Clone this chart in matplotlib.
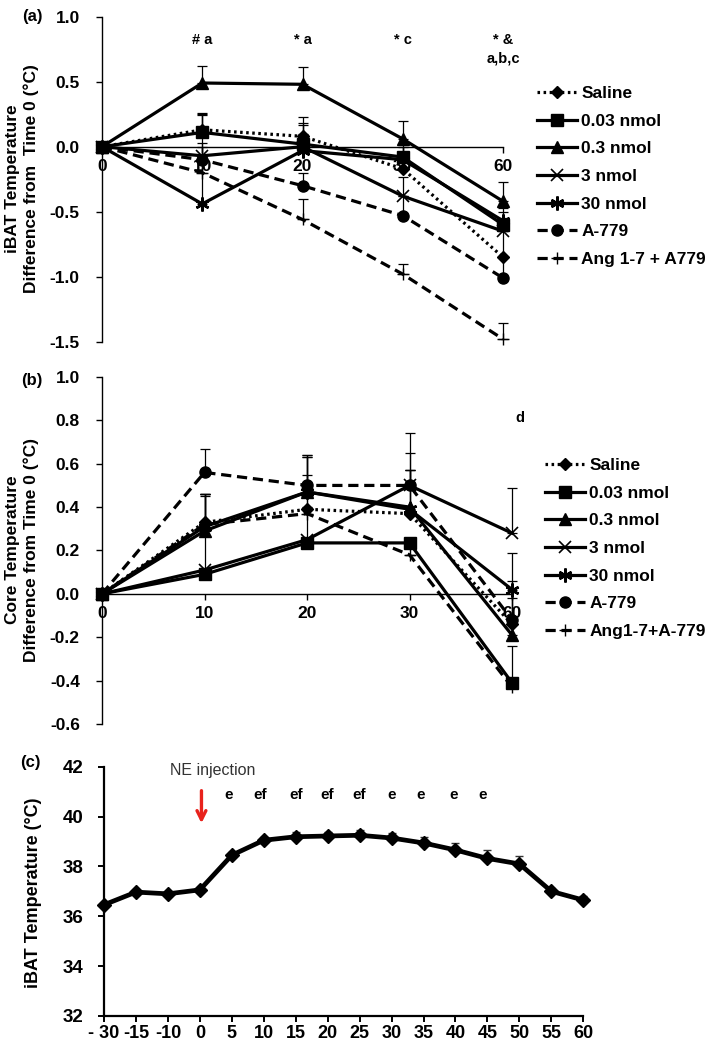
import matplotlib
matplotlib.use("Agg")
import matplotlib.pyplot as plt
import numpy as np

plt.rcParams['font.family'] = ['Liberation Sans', 'DejaVu Sans']
plt.rcParams['font.weight'] = 'bold'

# ---------------- data ----------------
time_ab = ["0", "10", "20", "30", "60"]
series_names_a = ["Saline", "0.03 nmol", "0.3 nmol", "3 nmol", "30 nmol", "A-779", "Ang 1-7 + A779"]
series_names_b = ["Saline", "0.03 nmol", "0.3 nmol", "3 nmol", "30 nmol", "A-779", "Ang1-7+A-779"]

ibat_saline = [0, 0.13, 0.08, -0.17, -0.85]
ibat_003 = [0, 0.11, 0.02, -0.08, -0.60]
ibat_03 = [0, 0.49, 0.48, 0.06, -0.42]
ibat_3 = [0, -0.07, 0.00, -0.38, -0.65]
ibat_30 = [0, -0.44, -0.03, -0.10, -0.57]
ibat_a779 = [0, -0.10, -0.30, -0.53, -1.01]
ibat_ang = [0, -0.20, -0.56, -0.98, -1.48]

ibat_err_saline = [0, 0.13, 0.15, 0.10, 0.20]
ibat_err_003 = [0, 0.14, 0.16, 0.10, 0.10]
ibat_err_03 = [0, 0.13, 0.13, 0.14, 0.15]
ibat_err_3 = [0, 0.10, 0.10, 0.15, 0.10]
ibat_err_30 = [0, 0.68, 0.20, 0.10, 0.10]
ibat_err_a779 = [0, 0.10, 0.10, 0.15, 0.16]
ibat_err_ang = [0, 0.10, 0.16, 0.08, 0.12]

core_saline = [0, 0.33, 0.39, 0.37, -0.14]
core_003 = [0, 0.09, 0.235, 0.235, -0.41]
core_03 = [0, 0.29, 0.47, 0.40, -0.19]
core_3 = [0, 0.11, 0.25, 0.50, 0.28]
core_30 = [0, 0.31, 0.47, 0.39, 0.02]
core_a779 = [0, 0.56, 0.50, 0.50, -0.12]
core_ang = [0, 0.32, 0.37, 0.18, -0.43]

core_err_saline = [0, 0.12, 0.24, 0.20, 0.20]
core_err_003 = [0, 0.00, 0.00, 0.00, 0.17]
core_err_03 = [0, 0.17, 0.16, 0.17, 0.20]
core_err_3 = [0, 0.35, 0.15, 0.24, 0.21]
core_err_30 = [0, 0.15, 0.17, 0.26, 0.17]
core_err_a779 = [0, 0.11, 0.14, 0.07, 0.10]
core_err_ang = [0, 0.14, 0.18, 0.00, 0.04]

time_c = ["- 30", "-15", "-10", "0", "5", "10", "15", "20", "25", "30", "35", "40", "45", "50", "55", "60"]
ibat_c = [36.46, 36.97, 36.90, 37.06, 38.45, 39.05, 39.19, 39.22, 39.25, 39.14, 38.94, 38.66, 38.32, 38.10, 37.00, 36.65]
ibat_c_err = [0.05, 0.06, 0.06, 0.08, 0.12, 0.15, 0.18, 0.18, 0.22, 0.22, 0.26, 0.26, 0.32, 0.32, 0.12, 0.15]

annot_a_pos = [1, 2, 3, 4]
annot_a_text = ["# a", "* a", "* c", "* &"]
annot_c_pos = [3.9, 4.9, 6, 7, 8, 9, 9.9, 10.95, 11.85]
annot_c_text = ["e", "ef", "ef", "ef", "ef", "e", "e", "e", "e"]

# ---------------- styles ----------------
styles = [
    dict(marker='D', ls=(0, (0.8, 1.1)), ms=6, mew=1),
    dict(marker='s', ls='-', ms=8, mew=1),
    dict(marker='^', ls='-', ms=8, mew=1),
    dict(marker='x', ls='-', ms=9, mew=1.2),
    dict(marker=(6, 2, 0), ls='-', ms=10, mew=1.8),
    dict(marker='o', ls=(0, (3.2, 1.8)), ms=8, mew=1),
    dict(marker='+', ls=(0, (3.2, 1.8)), ms=8, mew=1),
]

W, H = 709, 1046
fig = plt.figure(figsize=(W / 100, H / 100), dpi=100)
fig.patch.set_facecolor('white')


def ax_rect(x0, y0, x1, y1):
    return [x0 / W, 1 - y1 / H, (x1 - x0) / W, (y1 - y0) / H]


def draw_panel(ax, data, errs, names, ylim, yticks, legend_xy, lw=2.3):
    x = np.arange(len(time_ab))
    handles = []
    for d, e, st, nm in zip(data, errs, styles, names):
        ax.errorbar(x, d, yerr=[np.zeros(len(e)), e], fmt='none', ecolor='black',
                    elinewidth=0.9, capsize=3.5, capthick=0.9, zorder=3, clip_on=False)
        h, = ax.plot(x, d, color='black', lw=lw, linestyle=st['ls'], marker=st['marker'],
                     ms=st['ms'], mew=st['mew'], mfc='black', mec='black', zorder=4,
                     clip_on=False, label=nm)
        handles.append(h)
    ax.set_xlim(0, len(time_ab) - 1)
    ax.set_ylim(*ylim)
    ax.set_yticks(yticks)
    ax.set_yticklabels([f"{v:.1f}" for v in yticks])
    ax.set_xticks(x)
    ax.set_xticklabels(time_ab)
    ax.spines['top'].set_visible(False)
    ax.spines['right'].set_visible(False)
    ax.spines['bottom'].set_position(('data', 0))
    ax.spines['bottom'].set_linewidth(1.0)
    ax.spines['left'].set_linewidth(1.0)
    ax.tick_params(axis='y', direction='out', length=4, width=1, labelsize=12.5, pad=12)
    ax.tick_params(axis='x', direction='out', length=4, width=1, labelsize=12.5, pad=5)
    for t in ax.get_xticklabels() + ax.get_yticklabels():
        t.set_fontweight('bold')
        t.set_zorder(1)
    leg = fig.legend(handles=handles, loc='upper left',
                     bbox_to_anchor=(legend_xy[0] / W, 1 - legend_xy[1] / H),
                     frameon=False, fontsize=12.5, handlelength=2.3, handletextpad=0.25,
                     labelspacing=0.72, borderpad=0, borderaxespad=0, numpoints=1)
    for t in leg.get_texts():
        t.set_fontweight('bold')
    return ax


# ---------------- panel (a) ----------------
axa = fig.add_axes(ax_rect(102, 16.7, 503, 341.7))
draw_panel(axa,
           [ibat_saline, ibat_003, ibat_03, ibat_3, ibat_30, ibat_a779, ibat_ang],
           [ibat_err_saline, ibat_err_003, ibat_err_03, ibat_err_3, ibat_err_30, ibat_err_a779, ibat_err_ang],
           series_names_a, (-1.5, 1.0), [-1.5, -1.0, -0.5, 0.0, 0.5, 1.0], (537, 86))
for p, t in zip(annot_a_pos, annot_a_text):
    axa.text(p, 0.82, t, ha='center', va='center', fontsize=10.5, fontweight='bold')
axa.text(4, 0.68, "a,b,c", ha='center', va='center', fontsize=10.5, fontweight='bold')

# ---------------- panel (b) ----------------
axb = fig.add_axes(ax_rect(102, 377, 512, 724))
draw_panel(axb,
           [core_saline, core_003, core_03, core_3, core_30, core_a779, core_ang],
           [core_err_saline, core_err_003, core_err_03, core_err_3, core_err_30, core_err_a779, core_err_ang],
           series_names_b, (-0.6, 1.0), [-0.6, -0.4, -0.2, 0.0, 0.2, 0.4, 0.6, 0.8, 1.0], (545, 458))
axb.text(4.08, 0.81, "d", ha='center', va='center', fontsize=10.5, fontweight='bold')

# ---------------- panel (c) ----------------
axc = fig.add_axes(ax_rect(104, 766.7, 583.3, 1016))
xc = np.arange(len(time_c))
axc.errorbar(xc, ibat_c, yerr=[np.zeros(len(ibat_c_err)), ibat_c_err], fmt='none', ecolor='#333333',
             elinewidth=1.0, capsize=3, capthick=1.0, zorder=3, clip_on=False)
axc.plot(xc, ibat_c, color='black', lw=3.4, marker='D', ms=7, mfc='black', mec='black',
         zorder=4, clip_on=False)
axc.set_xlim(0, len(time_c) - 1)
axc.set_ylim(32, 42)
axc.set_yticks([32, 34, 36, 38, 40, 42])
axc.set_xticks(xc)
axc.set_xticklabels(time_c)
axc.spines['top'].set_visible(False)
axc.spines['right'].set_visible(False)
axc.spines['bottom'].set_linewidth(1.6)
axc.spines['left'].set_linewidth(1.6)
axc.tick_params(axis='y', direction='out', length=4, width=1.4, labelsize=13.5, pad=11)
axc.tick_params(axis='x', direction='out', length=4, width=1.4, labelsize=13, pad=2.5)
for t in axc.get_xticklabels() + axc.get_yticklabels():
    t.set_fontweight('bold')
for p, t in zip(annot_c_pos, annot_c_text):
    axc.text(p, 40.87, t, ha='center', va='center', fontsize=11, fontweight='bold')
axc.text(3.4, 41.83, "NE injection", ha='center', va='center', fontsize=11.5,
         fontweight='normal', color='#333333')
axc.annotate('', xy=(3.05, 39.62), xytext=(3.05, 41.15),
             arrowprops=dict(arrowstyle='->', color='#e8221c', lw=2.4, mutation_scale=16))

# ---------------- y labels & panel letters ----------------
fig.text(22 / W, 1 - 179 / H, "iBAT Temperature\nDifference from  Time 0 (°C)", rotation=90,
         ha='center', va='center', multialignment='center', fontsize=12.5, fontweight='bold')
fig.text(22 / W, 1 - 550 / H, "Core Temperature\nDifference from Time 0 (°C)", rotation=90,
         ha='center', va='center', multialignment='center', fontsize=12.5, fontweight='bold')
fig.text(34 / W, 1 - 893 / H, "iBAT Temperature (°C)", rotation=90,
         ha='center', va='center', fontsize=13, fontweight='bold')
fig.text(32 / W, 1 - 17 / H, "(a)", ha='center', va='center', fontsize=12, fontweight='bold')
fig.text(32 / W, 1 - 380 / H, "(b)", ha='center', va='center', fontsize=12, fontweight='bold')
fig.text(30 / W, 1 - 763 / H, "(c)", ha='center', va='center', fontsize=12, fontweight='bold')

fig.savefig("out.png", dpi=100, facecolor='white')
